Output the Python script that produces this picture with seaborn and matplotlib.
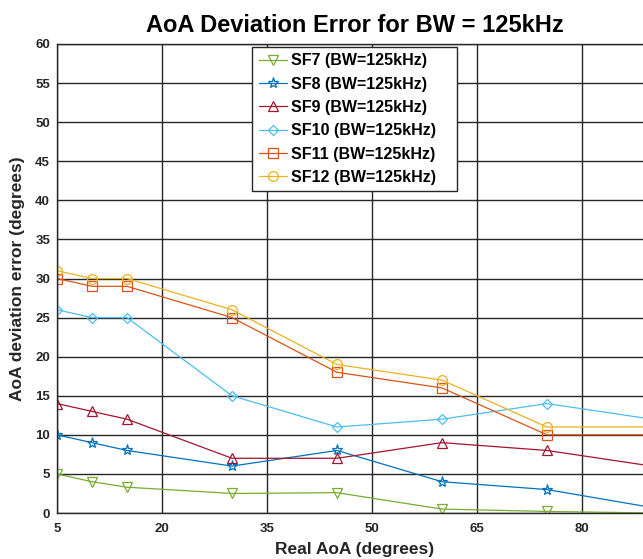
import matplotlib
matplotlib.use("Agg")
import matplotlib.pyplot as plt
import seaborn as sns
import pandas as pd

# ---- data ----
real_aoa = [5, 10, 15, 30, 45, 60, 75, 90]
sf7 = [5, 4, 3.3, 2.5, 2.6, 0.5, 0.2, 0]
sf8 = [10, 9, 8, 6, 8, 4, 3, 0.7]
sf9 = [14, 13, 12, 7, 7, 9, 8, 6]
sf10 = [26, 25, 25, 15, 11, 12, 14, 12]
sf11 = [30, 29, 29, 25, 18, 16, 10, 10]
sf12 = [31, 30, 30, 26, 19, 17, 11, 11]
labels = ["SF7 (BW=125kHz)", "SF8 (BW=125kHz)", "SF9 (BW=125kHz)",
          "SF10 (BW=125kHz)", "SF11 (BW=125kHz)", "SF12 (BW=125kHz)"]
x_ticks = [5, 20, 35, 50, 65, 80]
y_ticks = list(range(0, 61, 5))

series = [sf7, sf8, sf9, sf10, sf11, sf12]
colors = ["#77AC30", "#0072BD", "#A2142F", "#4DBEEE", "#D95319", "#EDB120"]
markers = ["v", "*", "^", "D", "s", "o"]
msizes = [7, 8, 7, 5, 7, 7]

sns.set_theme(style="white")
plt.rcParams['font.family'] = ['Liberation Sans', 'DejaVu Sans']

fig = plt.figure(figsize=(6.43, 5.59), dpi=100)
ax = fig.add_axes([57/643, 1-513/559, (652-57)/643, (513-44)/559])

for vals, lab, c, m, ms in zip(series, labels, colors, markers, msizes):
    df = pd.DataFrame({"x": real_aoa, "y": vals})
    sns.lineplot(data=df, x="x", y="y", ax=ax, color=c, marker=m,
                 markersize=ms, markerfacecolor="none", markeredgecolor=c,
                 markeredgewidth=0.9, linewidth=0.9, label=lab)

ax.set_xticks(x_ticks)
ax.set_yticks(y_ticks)
ax.set_xlim(5, 90)
ax.set_ylim(0, 60)
ax.grid(True, color="0.15", linewidth=1.0)
ax.set_axisbelow(True)
ax.tick_params(length=0, labelsize=9.5, pad=7)
ax.tick_params(axis="y", pad=5)
for t in ax.get_xticklabels() + ax.get_yticklabels():
    t.set_fontweight("bold")
    t.set_color("0.15")
for s in ax.spines.values():
    s.set_color("0.15")
    s.set_linewidth(1.0)

ax.set_xlabel("Real AoA (degrees)", fontsize=12.5, fontweight="bold", color="0.15", labelpad=5)
ax.set_ylabel("AoA deviation error (degrees)", fontsize=12.5, fontweight="bold", color="0.15", labelpad=7)
ax.set_title("AoA Deviation Error for BW = 125kHz", fontsize=17, fontweight="bold",
             color="black", pad=9)

leg = ax.legend(loc="upper left", bbox_to_anchor=(0.328, 0.9936 - 0.32, 0.3445, 0.32),
                mode="expand", frameon=True,
                fancybox=False, prop={"weight": "bold", "size": 11.5},
                labelspacing=0.52, handlelength=1.75, borderpad=0.4,
                handletextpad=0.3, borderaxespad=0)
for t in leg.get_texts():
    t.set_color("black")
leg.get_frame().set_edgecolor("0.15")
leg.get_frame().set_linewidth(1.0)
leg.get_frame().set_alpha(1)

fig.savefig("out.png", dpi=100)
